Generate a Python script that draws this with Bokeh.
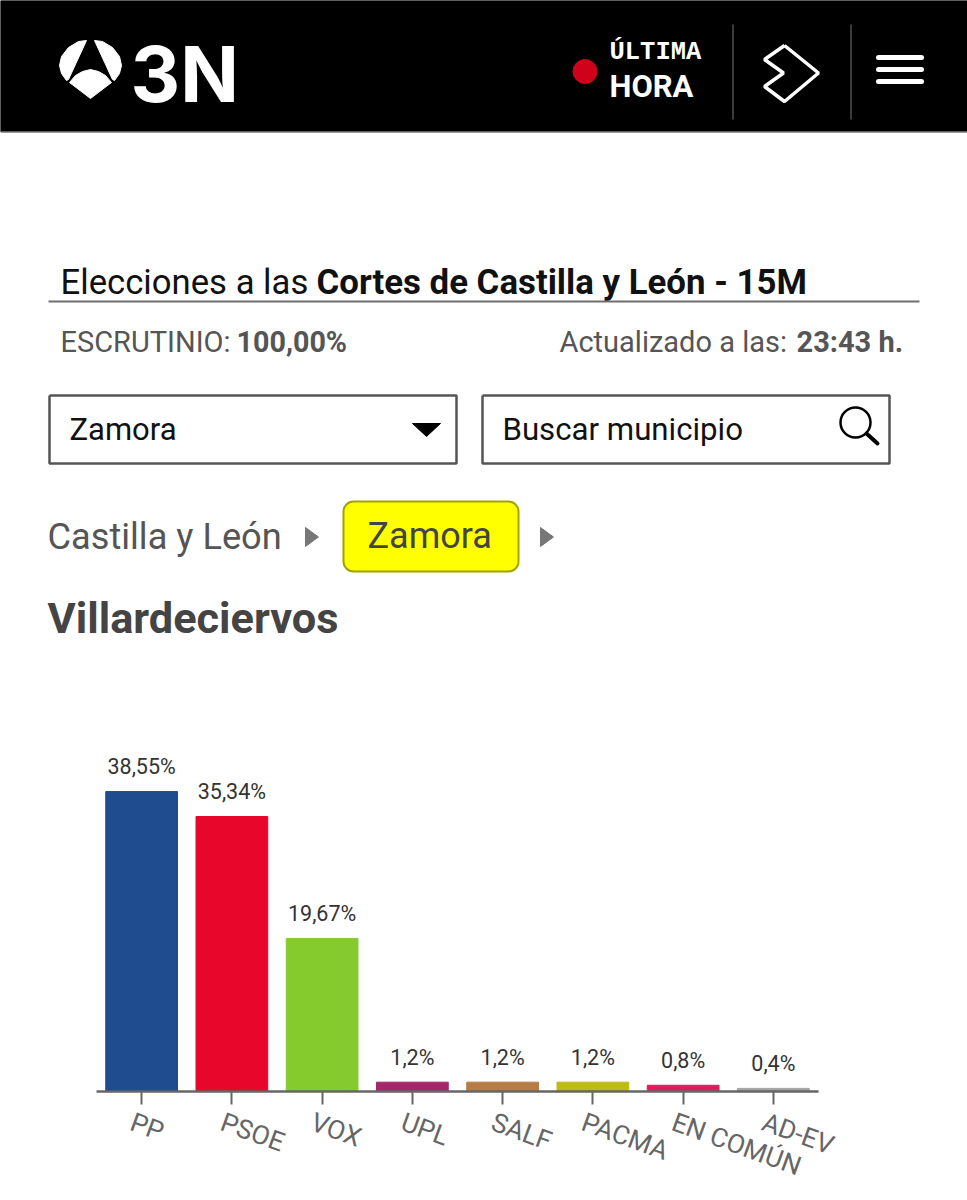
# bokeh version of the 3N results page for Villardeciervos

import math
from bokeh.core.properties import value
from bokeh.embed import file_html
from bokeh.layouts import column
from bokeh.models import BoxAnnotation, ColumnDataSource, FactorRange, Range1d
from bokeh.plotting import figure
from bokeh.resources import INLINE

parties = ["PP", "PSOE", "VOX", "UPL", "SALF", "PACMA", "EN COMÚN", "AD-EV"]
percents = [38.55, 35.34, 19.67, 1.2, 1.2, 1.2, 0.8, 0.4]
percent_labels = ["38,55%", "35,34%", "19,67%", "1,2%", "1,2%", "1,2%", "0,8%", "0,4%"]
party_colors = ["#1f4b8f", "#e8062b", "#85cb2e", "#a6266a", "#b57d45", "#bcbc14", "#e3185f", "#a3a3a3"]

FONT = "Roboto"
TOP_H = 680
CHART_H = 520


def add_text(fig, x, y, text, size, color, bold=False, font=FONT):
    # the svg backend draws alphabetic text about a third of an em too low
    fig.text(
        x=[x - 1],
        y=[y - 0.34 * size],
        text=[text],
        text_font=value(font),
        text_font_size="{}px".format(size),
        text_color=color,
        text_font_style="bold" if bold else "normal",
        text_baseline="alphabetic",
        text_align="left",
    )


def build_top():
    """everything above the chart, the range is in page pixels"""
    _p = figure(
        width=967,
        height=TOP_H,
        x_range=Range1d(0, 967),
        y_range=Range1d(TOP_H, 0),
        x_axis_type=None,
        y_axis_type=None,
        toolbar_location=None,
        tools="",
        output_backend="svg",
        min_border=0,
        frame_align=False,
    )
    _p.outline_line_color = None
    _p.grid.visible = False

    # header
    _p.quad(left=[0], right=[967], top=[0], bottom=[131], color="#000000")
    _p.line([0, 967], [131.5, 131.5], line_color="#7a7a7a", line_width=1.5)

    # logo
    _p.patch(
        [86, 78, 68, 61, 59, 61, 66, 68], [40, 41, 47, 56, 65, 73, 80, 79], color="white"
    )
    _p.patch(
        [94, 102, 112, 119, 121, 119, 114, 112], [40, 41, 47, 56, 65, 73, 80, 79], color="white"
    )
    _p.patch(
        [69, 75, 82, 90, 98, 105, 111, 90], [82, 75, 71, 69, 71, 75, 82, 98], color="white"
    )
    add_text(_p, 131, 100, "3N", 77, "white", bold=True, font="Inter")

    _p.scatter([584.5], [71], size=24, color="#d0021b", marker="circle")
    add_text(_p, 610, 61, "ÚLTIMA", 25.5, "white", bold=True, font="Liberation Mono")
    add_text(_p, 610, 97, "HORA", 31, "white", bold=True)
    for _x in [732.5, 850.5]:
        _p.line([_x, _x], [24, 119], line_color="#3c3c3c", line_width=2)
    _p.line(
        [784, 818, 784, 764, 783, 764, 784],
        [45, 72.5, 101, 86, 72.5, 59, 45],
        line_color="white",
        line_width=3.5,
    )
    for _y in [57, 69, 81]:
        _p.line([878, 921], [_y, _y], line_color="white", line_width=5, line_cap="round")

    # title block
    add_text(_p, 61, 293, "Elecciones a las", 34.7, "#111111")
    add_text(_p, 317, 293, "Cortes de Castilla y León - 15M", 34.8, "#111111", bold=True)
    _p.line([48, 919], [301, 301], line_color="#6e6e6e", line_width=2)
    add_text(_p, 61, 351, "ESCRUTINIO:", 29, "#555555")
    add_text(_p, 237, 351, "100,00%", 28.7, "#555555", bold=True)
    add_text(_p, 560, 351, "Actualizado a las:", 29, "#555555")
    add_text(_p, 797, 351, "23:43 h.", 29, "#555555", bold=True)

    # selectors
    for _l, _r in [(49, 456), (482, 889)]:
        _p.line(
            [_l, _r, _r, _l, _l], [395, 395, 463, 463, 395], line_color="#555555", line_width=2.5
        )
    add_text(_p, 70, 440, "Zamora", 31, "#111111")
    _p.patch([412, 440, 426], [423, 423, 436], color="#000000")
    add_text(_p, 503, 440, "Buscar municipio", 31.2, "#111111")
    _p.circle(x=[855], y=[422], radius=15, fill_color=None, line_color="#000000", line_width=2.5)
    _p.line([866, 877], [433, 443], line_color="#000000", line_width=4, line_cap="round")

    # breadcrumb
    add_text(_p, 48, 548, "Castilla y León", 36.2, "#555555")
    _p.patch([305, 318, 305], [527, 536.5, 546], color="#777777")
    _p.add_layout(
        BoxAnnotation(
            left=343,
            right=518,
            top=501,
            bottom=571,
            fill_color="#ffff00",
            fill_alpha=1,
            line_color="#a3a300",
            line_width=2,
            line_alpha=1,
            border_radius=10,
            level="underlay",
        )
    )
    add_text(_p, 368, 548, "Zamora", 36, "#444444")
    _p.patch([540, 553, 540], [527, 536.5, 546], color="#777777")
    add_text(_p, 48, 633, "Villardeciervos", 43.3, "#444444", bold=True)
    return _p


def build_chart():
    source = ColumnDataSource(
        data=dict(
            x=parties,
            top=percents,
            color=party_colors,
            label=percent_labels,
            base=[0] * len(parties),
        )
    )
    _p = figure(
        width=967,
        height=CHART_H,
        x_range=FactorRange(*parties, range_padding=0, factor_padding=0),
        y_range=Range1d(0, 47.68),
        y_axis_type=None,
        toolbar_location=None,
        tools="",
        output_backend="svg",
        min_border_left=96,
        min_border_right=149,
        min_border_top=40,
        min_border_bottom=109,
        frame_align=False,
    )
    _p.vbar(x="x", top="top", width=0.795, color="color", source=source)
    _p.text(
        x="x",
        y="top",
        text="label",
        source=source,
        y_offset=-25,
        text_align="center",
        text_baseline="alphabetic",
        text_font=value(FONT),
        text_font_size="21.5px",
        text_color="#333333",
    )
    _p.outline_line_color = None
    _p.grid.visible = False
    _p.xaxis.axis_line_color = "#666666"
    _p.xaxis.axis_line_width = 2.5
    _p.xaxis.major_tick_line_color = "#666666"
    _p.xaxis.major_tick_line_width = 2
    _p.xaxis.major_tick_in = 0
    _p.xaxis.major_tick_out = 13
    _p.xaxis.minor_tick_line_color = None
    _p.xaxis.major_label_text_color = None

    # rotated names start left of their tick, the axis labels can't do that
    _p.text(
        x="x",
        y="base",
        text="x",
        source=source,
        angle=math.radians(-20),
        x_offset=-10,
        y_offset=29,
        text_align="left",
        text_baseline="alphabetic",
        text_font=value(FONT),
        text_font_size="26.5px",
        text_color="#666666",
        level="overlay",
    )
    return _p


page = column(build_top(), build_chart(), spacing=0)
open("out.html", "w").write(file_html(page, INLINE))
